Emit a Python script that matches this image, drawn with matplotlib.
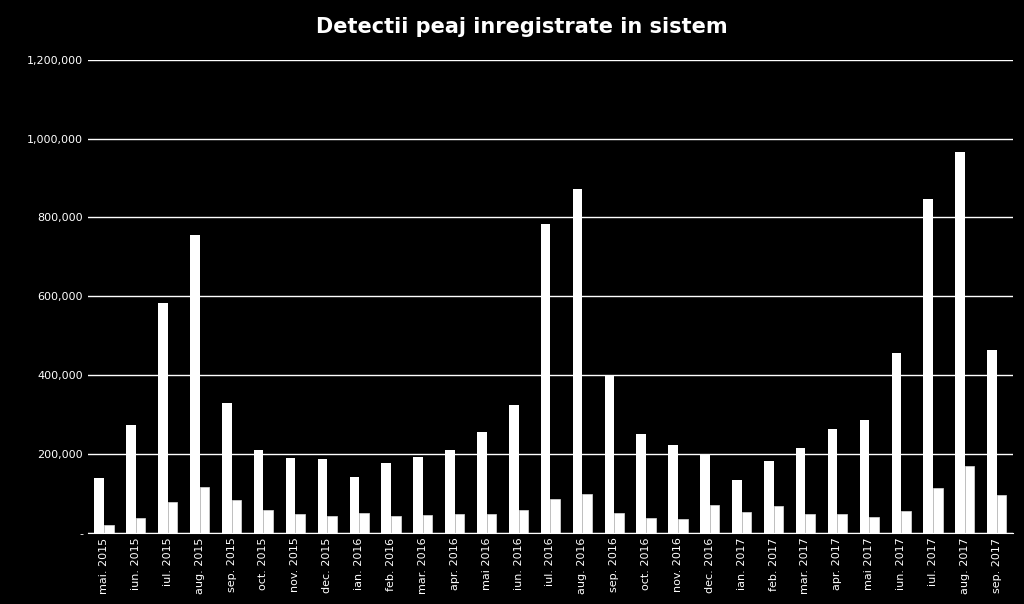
import matplotlib.pyplot as plt
import numpy as np
from matplotlib.ticker import FuncFormatter

months = ["mai. 2015", "iun. 2015", "iul. 2015", "aug. 2015", "sep. 2015", "oct. 2015",
          "nov. 2015", "dec. 2015", "ian. 2016", "feb. 2016", "mar. 2016", "apr. 2016",
          "mai 2016", "iun. 2016", "iul. 2016", "aug. 2016", "sep. 2016", "oct. 2016",
          "nov. 2016", "dec. 2016", "ian. 2017", "feb. 2017", "mar. 2017", "apr. 2017",
          "mai 2017", "iun. 2017", "iul. 2017", "aug. 2017", "sep. 2017"]
series_a = [138000, 273000, 582000, 755000, 330000, 210000, 190000, 188000, 142000,
            178000, 193000, 210000, 256000, 325000, 783000, 873000, 400000, 250000,
            222000, 196000, 134000, 181000, 215000, 262000, 287000, 455000, 846000,
            966000, 464000]
series_b = [20000, 38000, 77000, 115000, 82000, 58000, 48000, 42000, 50000, 42000,
            45000, 47000, 47000, 57000, 85000, 97000, 50000, 37000, 35000, 70000,
            52000, 68000, 47000, 47000, 40000, 55000, 113000, 170000, 95000]

fig = plt.figure(figsize=(10.24, 6.04), dpi=100, facecolor="black")
ax = fig.add_axes([0.086, 0.118, 0.903, 0.783], facecolor="black")

x = np.arange(len(months))
w = 0.3
ax.bar(x - w / 2, series_a, w, color="white", zorder=3)
ax.bar(x + w / 2, series_b, w, color="white", edgecolor="#dddddd", linewidth=0.5, zorder=3)

ax.set_xlim(-0.5, len(months) - 0.5)
ax.set_ylim(0, 1200000)
ax.set_yticks(np.arange(0, 1200001, 200000))
ax.yaxis.set_major_formatter(FuncFormatter(lambda v, p: "-" if v == 0 else f"{int(v):,}"))
ax.grid(axis="y", color="white", linewidth=1, zorder=0)
ax.set_xticks(x)
ax.set_xticklabels(months, rotation=90, fontsize=8, color="white")
ax.tick_params(axis="y", colors="white", labelsize=8, length=0)
ax.tick_params(axis="x", length=0)
for s in ["top", "right", "left"]:
    ax.spines[s].set_visible(False)
ax.spines["bottom"].set_color("white")

fig.text(0.51, 0.955, "Detectii peaj inregistrate in sistem", color="white",
         fontsize=15, fontweight="bold", ha="center", va="center")

fig.savefig("out.png", facecolor="black")
